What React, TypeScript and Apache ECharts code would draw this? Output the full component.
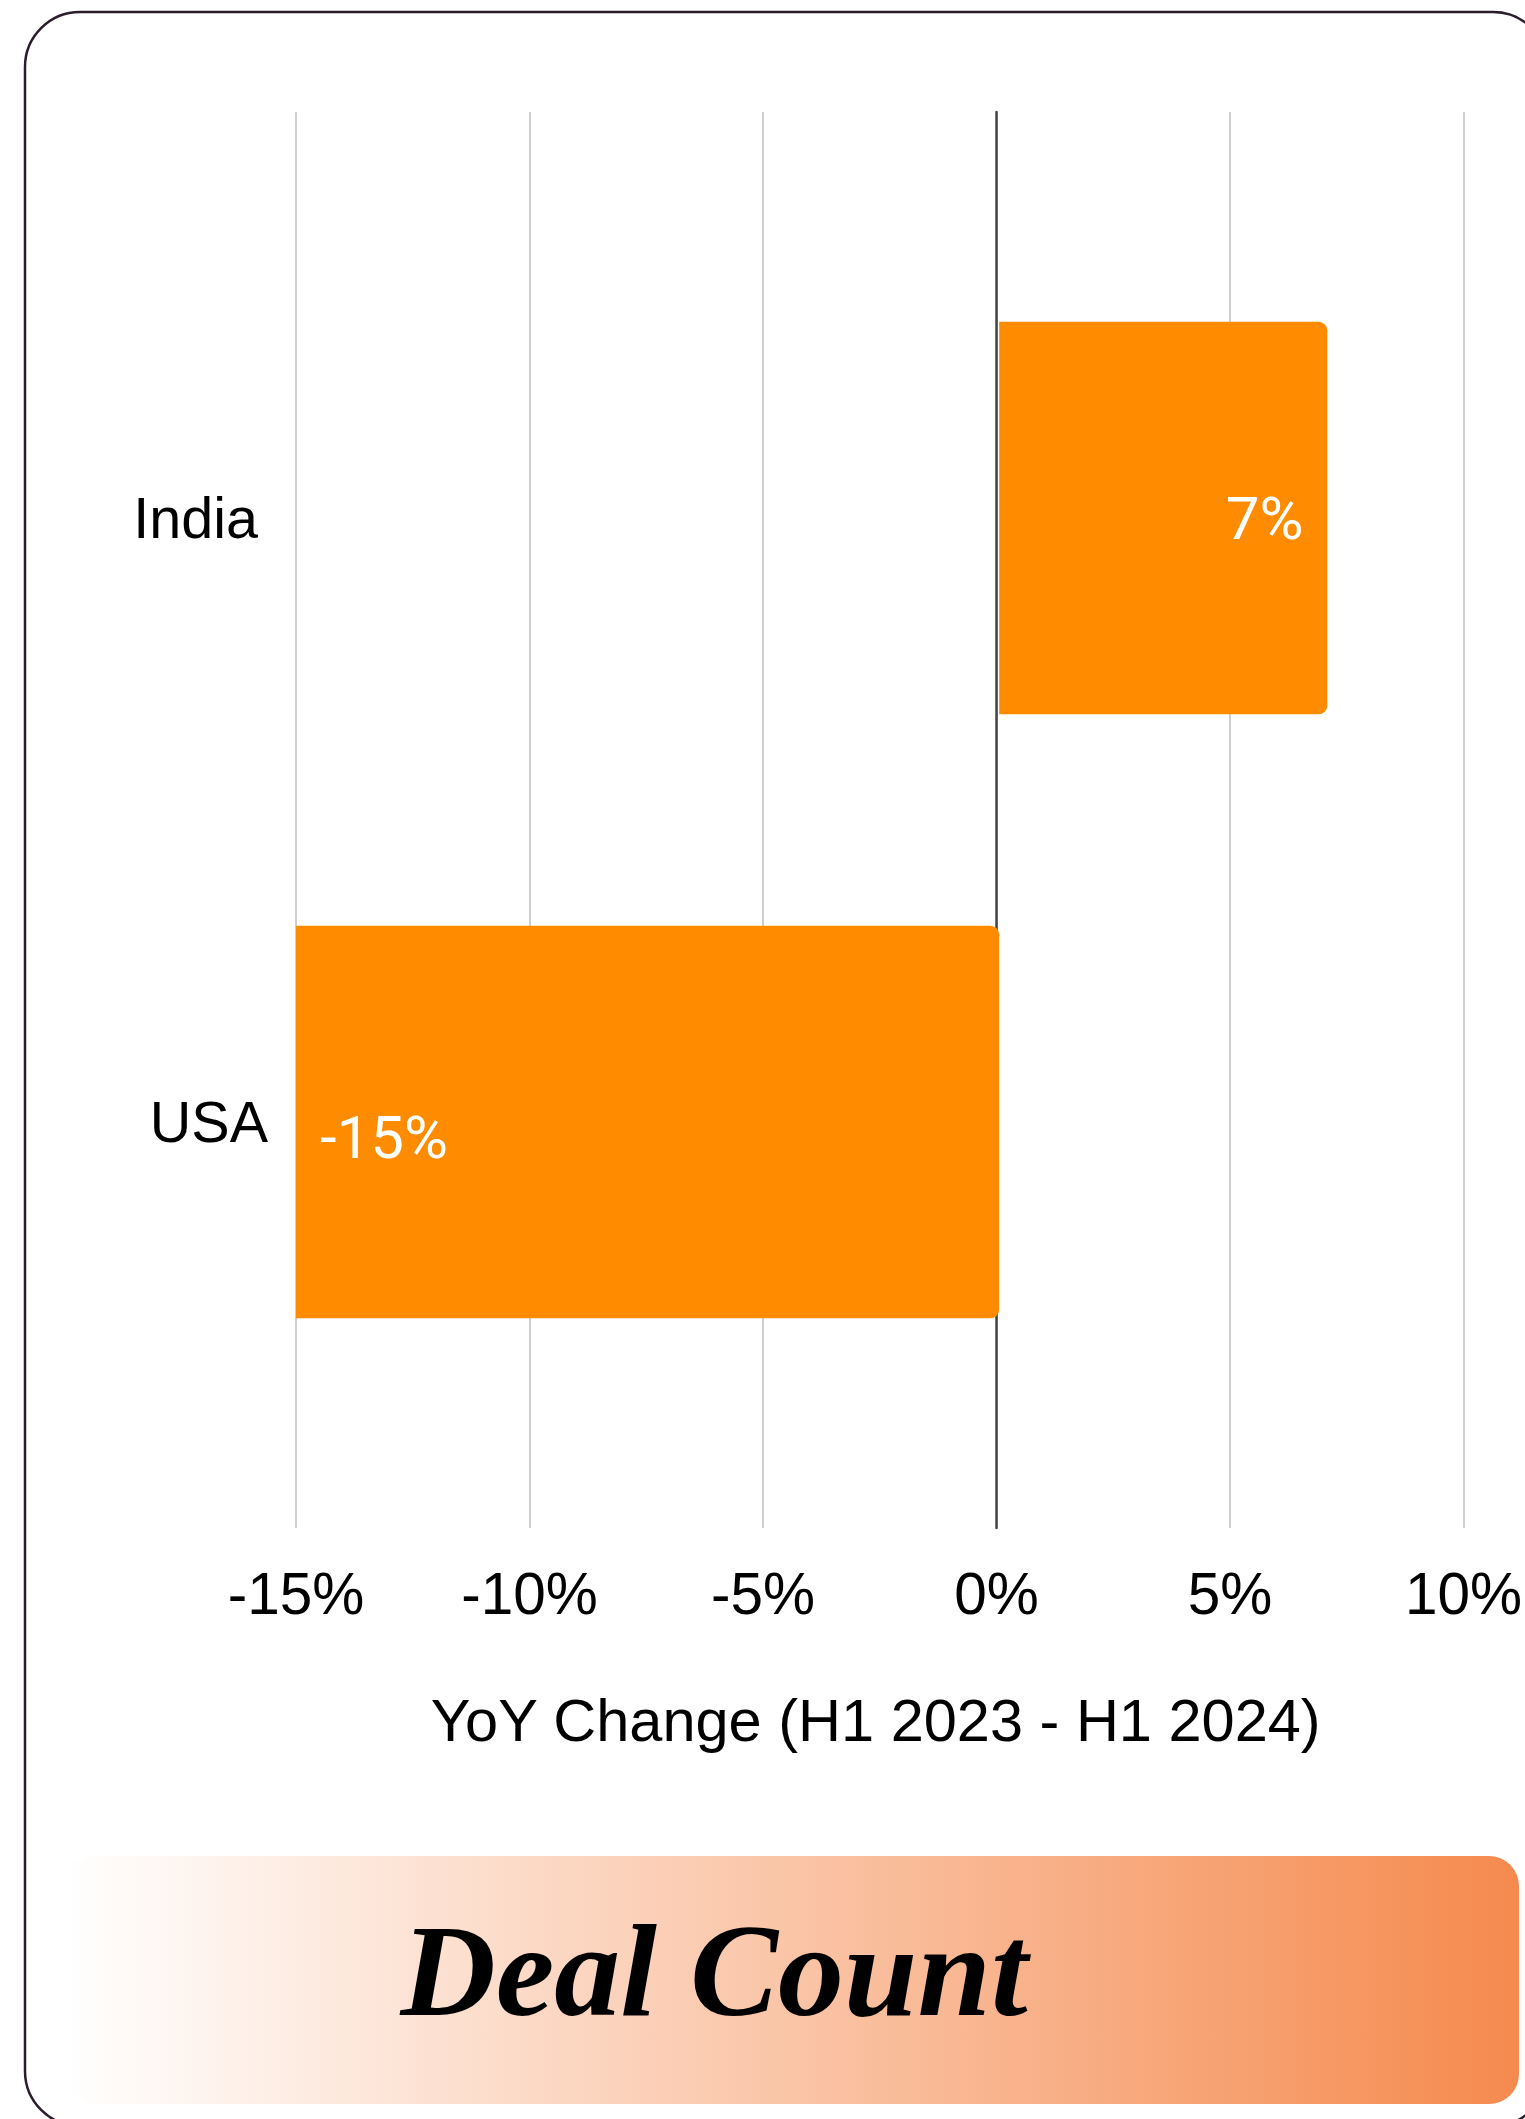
import React, { useEffect, useRef } from 'react';
import * as echarts from 'echarts';

const categories = ['India', 'USA'];
const yoyValues = [7, -15];
const xMin = -15;
const xMax = 10;
const xStep = 5;
const axisTitle = 'YoY Change (H1 2023 - H1 2024)';
const bannerTitle = 'Deal Count';

export default function App() {
  const ref = useRef<HTMLDivElement>(null);

  useEffect(() => {
    if (!ref.current) return;
    const chart = echarts.init(ref.current, null, { renderer: 'svg' });
    const barData = yoyValues.map((v) => ({
      value: v,
      label:
        v >= 0
          ? { position: 'insideRight' }
          : { position: 'insideLeft', offset: [0, 15] },
    }));
    const categoryData = categories.map((c, i) => ({
      value: c,
      textStyle: i === 0 ? { padding: [0, 10, 0, 0] } : {},
    }));
    chart.setOption({
      animation: false,
      backgroundColor: '#ffffff',
      grid: [
        { left: 296, right: 57, top: 216, bottom: 695 },
        { left: 296, right: 57, top: 112, bottom: 591 },
      ],
      xAxis: [
        {
          gridIndex: 0,
          type: 'value',
          min: xMin,
          max: xMax,
          interval: xStep,
          axisLine: { show: false },
          axisTick: { show: false },
          axisLabel: { show: false },
          splitLine: { show: false },
        },
        {
          gridIndex: 1,
          type: 'value',
          min: xMin,
          max: xMax,
          interval: xStep,
          axisLine: { show: false },
          axisTick: { show: false },
          axisLabel: {
            formatter: '{value}%',
            fontSize: 58.5,
            color: '#000000',
            fontFamily: 'Liberation Sans',
            margin: 36,
          },
          splitLine: { show: true, lineStyle: { color: '#cfcfcf', width: 2 } },
          name: axisTitle,
          nameLocation: 'middle',
          nameGap: 162,
          nameTextStyle: {
            fontSize: 59.5,
            color: '#000000',
            fontFamily: 'Liberation Sans',
            padding: [0, 8, 0, 0],
          },
        },
      ],
      yAxis: [
        {
          gridIndex: 0,
          type: 'category',
          data: categoryData,
          inverse: true,
          axisLine: { show: false },
          axisTick: { show: false },
          splitLine: { show: false },
          axisLabel: {
            fontSize: 57.5,
            color: '#000000',
            fontFamily: 'Liberation Sans',
            margin: 28,
          },
        },
        {
          gridIndex: 1,
          type: 'value',
          min: 0,
          max: 1,
          axisLine: { show: true, onZero: true, lineStyle: { color: '#444444', width: 2.5 } },
          axisTick: { show: false },
          axisLabel: { show: false },
          splitLine: { show: false },
        },
      ],
      series: [
        {
          type: 'bar',
          xAxisIndex: 0,
          yAxisIndex: 0,
          data: barData,
          barCategoryGap: '35%',
          itemStyle: { color: '#FF8C00', borderRadius: [0, 9, 9, 0] },
          label: {
            show: true,
            distance: 24,
            formatter: '{c}%',
            fontSize: 60,
            color: '#ffffff',
            fontFamily: 'Roboto',
          },
          z: 5,
        },
      ],
      graphic: [
        {
          type: 'rect',
          shape: { x: 25, y: 12, width: 1523, height: 2114, r: 55 },
          style: { fill: 'none', stroke: '#2b1d2b', lineWidth: 2.5 },
          z: 10,
        },
        {
          type: 'rect',
          shape: { x: 63, y: 1856, width: 1456, height: 248, r: 30 },
          style: {
            fill: new echarts.graphic.LinearGradient(0, 0, 1, 0, [
              { offset: 0, color: '#ffffff' },
              { offset: 1, color: '#F58A4E' },
            ]),
          },
          z: 1,
        },
        {
          type: 'text',
          x: 714,
          y: 1970,
          style: {
            text: bannerTitle,
            fontSize: 132,
            fontStyle: 'italic',
            fontWeight: 'bold',
            fontFamily: 'Liberation Serif',
            fill: '#000000',
            align: 'center',
            verticalAlign: 'middle',
          },
          z: 2,
        },
      ],
    });
    return () => chart.dispose();
  }, []);

  return (
    <div
      ref={ref}
      style={{ position: 'absolute', left: 0, top: 0, width: 1525, height: 2119 }}
    />
  );
}
